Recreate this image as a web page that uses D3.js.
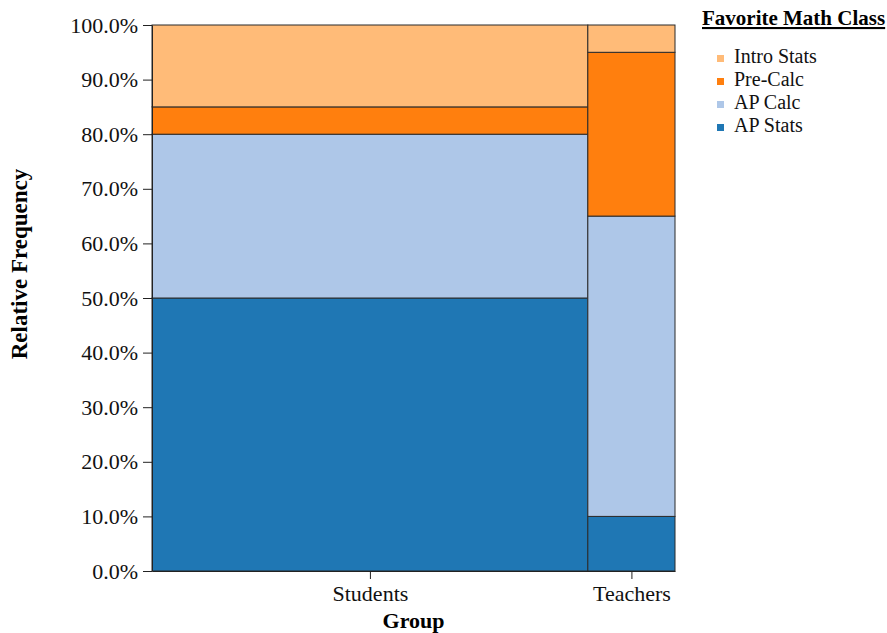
<!DOCTYPE html>
<html>
<head>
<meta charset="utf-8">
<script src="https://cdn.jsdelivr.net/npm/d3@7"></script>
<style>
  body { margin: 0; background: #fff; }
  text { font-family: "Liberation Serif", "Times New Roman", serif; }
</style>
</head>
<body>
<div id="root"></div>
<script>
// data
let groups = ['Students', 'Teachers'],
    groupCounts = [100, 20],
    classes = ['AP Stats', 'AP Calc', 'Pre-Calc', 'Intro Stats'],
    studentShares = [0.50, 0.30, 0.05, 0.15],
    teacherShares = [0.10, 0.55, 0.30, 0.05],
    classColors = ['#1f77b4', '#aec7e8', '#ff7f0e', '#ffbb78'],
    yTicks = [0, 0.1, 0.2, 0.3, 0.4, 0.5, 0.6, 0.7, 0.8, 0.9, 1.0];

let shares = [studentShares, teacherShares];

let width = 887, height = 633,
    margin = { top: 25, left: 152, right: 212, bottom: 62 },
    plotW = width - margin.left - margin.right,
    plotH = height - margin.top - margin.bottom;

let svg = d3.select('#root').append('svg')
    .attr('width', width)
    .attr('height', height);

let g = svg.append('g')
    .attr('transform', 'translate(' + margin.left + ',' + margin.top + ')');

// x: cumulative widths by group size
let total = d3.sum(groupCounts),
    xStart = d3.cumsum([0].concat(groupCounts)).slice(0, groupCounts.length);

let x = d3.scaleLinear().domain([0, total]).range([0, plotW]),
    y = d3.scaleLinear().domain([0, 1]).range([plotH, 0]);

let color = d3.scaleOrdinal().domain(classes).range(classColors);

let cells = [];
groups.forEach((grp, gi) => {
    let acc = 0;
    classes.forEach((c, ci) => {
        cells.push({ group: grp, cls: c, x0: xStart[gi], x1: xStart[gi] + groupCounts[gi], y0: acc, y1: acc + shares[gi][ci] });
        acc += shares[gi][ci];
    });
});

g.selectAll('.cell')
    .data(cells)
    .enter()
    .append('rect')
    .attr('class', 'cell')
    .attr('x', d => x(d.x0))
    .attr('width', d => x(d.x1) - x(d.x0))
    .attr('y', d => y(d.y1))
    .attr('height', d => y(d.y0) - y(d.y1))
    .attr('fill', d => color(d.cls))
    .attr('stroke', '#2a2a2a')
    .attr('stroke-width', 1);

// y axis
let yAxis = g.append('g')
    .call(d3.axisLeft(y).tickValues(yTicks).tickFormat(d3.format('.1%'))
        .tickSizeInner(9).tickSizeOuter(0).tickPadding(5));
yAxis.selectAll('text').style('font-size', '22px').attr('fill', '#111');
yAxis.selectAll('line, path').attr('stroke', '#222');

// x axis with ticks at band centers
let xAxis = g.append('g')
    .attr('transform', 'translate(0,' + plotH + ')')
    .call(d3.axisBottom(x)
        .tickValues(groups.map((d, i) => xStart[i] + groupCounts[i] / 2))
        .tickFormat((d, i) => groups[i])
        .tickSizeInner(8).tickSizeOuter(0).tickPadding(6));
xAxis.selectAll('text').style('font-size', '22px').attr('fill', '#111');
xAxis.selectAll('line, path').attr('stroke', '#222');

// axis titles
svg.append('text')
    .attr('x', margin.left + plotW / 2)
    .attr('y', 628)
    .attr('text-anchor', 'middle')
    .style('font-size', '22px')
    .style('font-weight', 'bold')
    .text('Group');

svg.append('text')
    .attr('transform', 'translate(27,264) rotate(-90)')
    .attr('text-anchor', 'middle')
    .style('font-size', '23px')
    .style('font-weight', 'bold')
    .text('Relative Frequency');

// legend
let legend = svg.append('g').attr('transform', 'translate(702,0)');
legend.append('text')
    .attr('x', 0)
    .attr('y', 25)
    .style('font-size', '21px')
    .style('font-weight', 'bold')
    .style('text-decoration', 'underline')
    .text('Favorite Math Class');

let legendOrder = classes.slice().reverse();
legend.selectAll('.item')
    .data(legendOrder)
    .enter()
    .append('g')
    .attr('class', 'item')
    .attr('transform', (d, i) => 'translate(0,' + (63 + i * 23) + ')')
    .each(function (d) {
        d3.select(this).append('rect')
            .attr('x', 15).attr('y', -8)
            .attr('width', 7).attr('height', 7)
            .attr('fill', color(d));
        d3.select(this).append('text')
            .attr('x', 32).attr('y', 0)
            .style('font-size', '20px')
            .attr('fill', '#111')
            .text(d);
    });
</script>
</body>
</html>
